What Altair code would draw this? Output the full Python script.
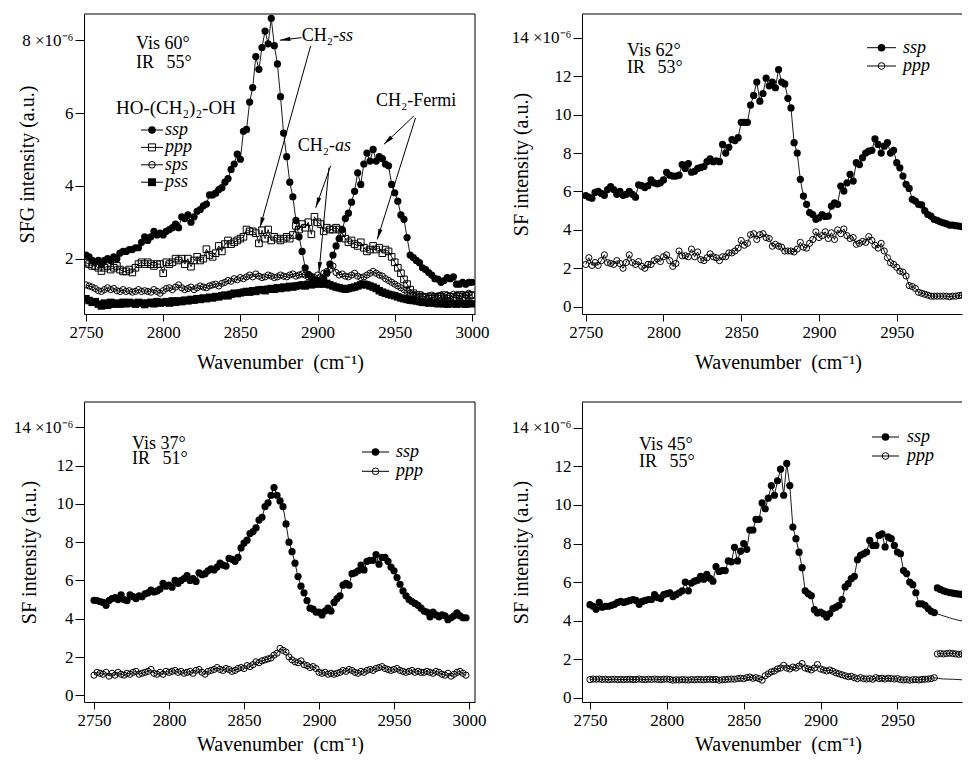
import math
import altair as alt
import pandas as pd

FONT = "'Liberation Serif', 'Times New Roman', Times, serif"
START = 2750
STEP = 2
SUP6 = "\u00d710\u207b\u2076"

# ---------------- Panel 1 (Vis 60 / IR 55) ----------------
p1_ssp = [2.10, 2.05, 1.95, 1.90, 1.95, 1.85, 1.95, 2.00, 1.95, 2.05,
          2.00, 2.15, 2.20, 2.20, 2.25, 2.25, 2.30, 2.30, 2.45, 2.60,
          2.50, 2.60, 2.75, 2.65, 2.70, 2.65, 2.75, 2.80, 2.85, 2.95,
          2.85, 3.15, 3.10, 3.20, 3.00, 3.15, 3.30, 3.35, 3.45, 3.50,
          3.75, 3.75, 3.80, 3.90, 3.95, 4.10, 4.20, 4.45, 4.60, 4.87,
          4.73, 5.50, 5.55, 6.30, 6.70, 7.55, 7.20, 7.80, 8.25, 7.90,
          8.60, 7.85, 7.35, 6.45, 5.45, 4.80, 4.10, 3.70, 3.05, 2.60,
          2.20, 1.75, 1.57, 1.48, 1.42, 1.40, 1.38, 1.45, 1.60, 1.85,
          2.10, 2.35, 2.55, 2.80, 3.10, 3.25, 3.55, 3.85, 4.36, 4.04,
          4.60, 4.90, 4.68, 5.00, 4.68, 4.80, 4.75, 4.60, 4.55, 4.04,
          3.81, 3.58, 3.20, 3.08, 2.58, 2.10, 2.03, 1.95, 1.89, 1.75,
          1.70, 1.62, 1.55, 1.45, 1.44, 1.35, 1.40, 1.48, 1.45, 1.50,
          1.30, 1.30, 1.35, 1.30, 1.35, 1.35]
p1_ppp = [1.89, 1.85, 1.80, 1.80, 1.75, 1.66, 1.75, 1.80, 1.70, 1.75,
          1.80, 1.70, 1.65, 1.65, 1.70, 1.62, 1.75, 1.85, 1.90, 1.85,
          1.90, 1.85, 1.80, 1.85, 1.85, 1.60, 1.90, 1.85, 1.90, 2.00,
          1.95, 2.00, 1.85, 2.00, 1.78, 1.95, 2.05, 1.95, 2.00, 2.26,
          2.10, 2.05, 2.15, 2.35, 2.20, 2.40, 2.50, 2.40, 2.45, 2.50,
          2.55, 2.60, 2.80, 2.75, 2.75, 2.70, 2.42, 2.78, 2.55, 2.80,
          2.50, 2.60, 2.55, 2.50, 2.55, 2.60, 2.55, 2.65, 2.90, 2.80,
          2.95, 2.85, 3.00, 2.67, 3.15, 3.00, 2.95, 2.75, 2.85, 2.80,
          2.80, 2.85, 2.80, 2.70, 2.55, 2.45, 2.50, 2.40, 2.35, 2.45,
          2.30, 2.20, 2.25, 2.35, 2.25, 2.30, 2.15, 2.25, 2.20, 2.05,
          1.90, 1.75, 1.60, 1.43, 1.30, 1.15, 1.05, 1.00, 1.00, 0.95,
          0.95, 0.90, 0.90, 0.95, 0.90, 0.95, 1.00, 0.90, 0.95, 0.95,
          0.90, 1.00, 0.95, 0.90, 1.00, 1.00]
p1_sps = [1.28, 1.25, 1.22, 1.18, 1.12, 1.10, 1.15, 1.20, 1.15, 1.18,
          1.12, 1.10, 1.15, 1.10, 1.12, 1.08, 1.10, 1.15, 1.10, 1.12,
          1.10, 1.08, 1.15, 1.10, 1.05, 1.12, 1.18, 1.20, 1.15, 1.22,
          1.28, 1.20, 1.15, 1.18, 1.22, 1.15, 1.20, 1.25, 1.22, 1.20,
          1.25, 1.28, 1.30, 1.25, 1.32, 1.35, 1.40, 1.38, 1.45, 1.42,
          1.48, 1.45, 1.50, 1.55, 1.50, 1.58, 1.52, 1.48, 1.50, 1.55,
          1.52, 1.48, 1.50, 1.55, 1.52, 1.50, 1.55, 1.58, 1.52, 1.55,
          1.58, 1.55, 1.50, 1.52, 1.48, 1.55, 1.50, 1.60, 1.65, 1.70,
          1.80, 1.62, 1.55, 1.58, 1.52, 1.50, 1.55, 1.60, 1.52, 1.48,
          1.50, 1.55, 1.60, 1.65, 1.60, 1.55, 1.52, 1.45, 1.40, 1.35,
          1.30, 1.25, 1.20, 1.15, 1.10, 1.05, 1.00, 0.98, 0.95, 0.98,
          0.95, 0.98, 1.00, 0.95, 0.98, 1.00, 0.95, 1.00, 0.98, 1.02,
          1.00, 0.98, 1.02, 1.00, 1.05, 1.00]
p1_pss = [0.90, 0.85, 0.80, 0.82, 0.75, 0.70, 0.78, 0.72, 0.80, 0.75,
          0.78, 0.75, 0.80, 0.76, 0.80, 0.78, 0.75, 0.80, 0.78, 0.74,
          0.78, 0.80, 0.76, 0.82, 0.78, 0.80, 0.82, 0.78, 0.84, 0.80,
          0.84, 0.82, 0.86, 0.84, 0.88, 0.86, 0.90, 0.88, 0.92, 0.90,
          0.94, 0.92, 0.96, 0.95, 0.98, 1.00, 0.98, 1.02, 1.05, 1.04,
          1.06, 1.08, 1.10, 1.08, 1.12, 1.10, 1.14, 1.15, 1.12, 1.16,
          1.18, 1.16, 1.20, 1.18, 1.22, 1.20, 1.24, 1.22, 1.25, 1.26,
          1.28, 1.25, 1.30, 1.28, 1.32, 1.30, 1.34, 1.30, 1.32, 1.28,
          1.25, 1.22, 1.20, 1.18, 1.16, 1.18, 1.20, 1.22, 1.25, 1.28,
          1.30, 1.28, 1.25, 1.22, 1.18, 1.12, 1.08, 1.05, 1.02, 1.00,
          0.98, 0.95, 0.92, 0.90, 0.88, 0.86, 0.85, 0.84, 0.82, 0.80,
          0.80, 0.78, 0.80, 0.78, 0.76, 0.78, 0.76, 0.75, 0.78, 0.76,
          0.75, 0.78, 0.76, 0.75, 0.78, 0.76]

# ---------------- Panel 2 (Vis 62 / IR 53) ----------------
p2_ssp = [5.79, 5.70, 5.65, 5.95, 6.00, 5.90, 5.80, 6.10, 6.25, 6.10,
          5.85, 6.00, 5.80, 5.85, 6.00, 5.85, 5.70, 6.35, 6.30, 6.20,
          6.30, 6.60, 6.45, 6.40, 6.45, 6.60, 7.00, 6.85, 6.80, 6.80,
          6.85, 7.40, 7.20, 7.45, 7.00, 7.05, 7.20, 7.25, 7.30, 7.55,
          7.70, 7.55, 7.60, 7.55, 8.45, 8.00, 8.30, 8.70, 8.65, 8.80,
          9.60, 9.60, 9.60, 10.50, 11.00, 11.70, 10.70, 11.10, 11.90, 11.50,
          11.70, 11.40, 12.35, 11.70, 11.60, 10.85, 10.35, 8.54, 8.00, 6.63,
          5.76, 5.33, 4.90, 4.80, 4.55, 4.63, 4.80, 4.70, 4.72, 5.24,
          5.41, 5.33, 6.28, 6.02, 6.45, 6.89, 6.54, 7.50, 7.40, 7.76,
          8.00, 8.10, 8.14, 8.74, 8.45, 8.00, 8.36, 8.54, 8.00, 8.14,
          7.50, 7.23, 6.80, 6.37, 6.16, 5.59, 5.50, 5.33, 5.30, 5.00,
          4.80, 4.72, 4.55, 4.50, 4.42, 4.37, 4.32, 4.25, 4.25, 4.22,
          4.20, 4.16, 4.18, 4.16, 4.16]
p2_ppp = [2.20, 2.55, 2.15, 2.30, 2.15, 2.40, 2.70, 2.30, 2.25, 2.20,
          2.40, 2.25, 2.00, 2.30, 2.70, 2.30, 2.20, 2.35, 2.10, 2.00,
          2.20, 2.20, 2.40, 2.50, 2.35, 2.60, 2.70, 2.40, 2.10, 2.25,
          2.90, 2.65, 2.65, 2.60, 3.00, 2.60, 2.85, 2.45, 2.40, 2.55,
          2.75, 2.60, 2.55, 2.40, 2.60, 2.60, 2.80, 2.80, 2.90, 3.05,
          3.45, 3.20, 3.30, 3.75, 3.80, 3.50, 3.75, 3.80, 3.60, 3.55,
          3.15, 3.25, 3.15, 3.10, 2.90, 2.90, 2.90, 2.85, 3.00, 3.35,
          3.10, 3.05, 3.30, 3.50, 3.90, 3.60, 3.70, 3.90, 3.55, 3.85,
          3.50, 4.00, 3.80, 4.05, 3.70, 3.55, 3.60, 3.25, 3.30, 3.40,
          3.35, 3.65, 3.45, 3.20, 3.05, 3.30, 2.90, 2.55, 2.29, 2.20,
          2.05, 1.85, 1.80, 1.60, 1.10, 1.05, 0.95, 0.75, 0.70, 0.65,
          0.60, 0.55, 0.55, 0.55, 0.55, 0.55, 0.55, 0.52, 0.55, 0.55,
          0.58, 0.60, 0.60, 0.58, 0.60]

# ---------------- Panel 3 (Vis 37 / IR 51) ----------------
p3_ssp = [4.96, 4.95, 4.90, 4.85, 4.70, 4.95, 5.05, 5.10, 5.00, 5.25,
          5.00, 4.95, 5.25, 5.15, 5.05, 5.20, 5.15, 5.30, 5.35, 5.50,
          5.40, 5.45, 5.55, 5.85, 5.70, 5.75, 5.65, 6.00, 5.85, 6.00,
          6.10, 6.25, 6.00, 6.10, 5.95, 6.40, 6.30, 6.35, 6.50, 6.60,
          6.55, 6.70, 6.90, 6.80, 6.75, 7.15, 7.10, 7.00, 7.20, 7.70,
          7.95, 8.10, 8.45, 8.55, 8.75, 9.15, 9.30, 9.85, 10.05, 10.45,
          10.85, 10.45, 10.15, 9.85, 8.95, 8.00, 7.50, 6.90, 6.20, 5.70,
          5.35, 4.95, 4.55, 4.50, 4.35, 4.35, 4.20, 4.40, 4.55, 4.40,
          4.85, 5.05, 5.20, 5.75, 5.85, 5.75, 6.35, 6.40, 6.50, 6.80,
          6.55, 7.00, 7.05, 7.05, 7.35, 6.85, 7.20, 7.20, 7.00, 6.70,
          6.50, 6.15, 5.80, 5.45, 5.20, 5.00, 4.90, 4.80, 4.70, 4.55,
          4.40, 4.35, 4.10, 4.35, 4.20, 4.10, 4.20, 4.15, 3.95, 4.05,
          4.15, 4.30, 4.15, 4.05, 4.05]
p3_ppp = [1.05, 1.20, 1.15, 1.10, 1.20, 1.00, 1.15, 1.05, 1.20, 1.10,
          1.05, 1.15, 1.10, 1.20, 1.25, 1.10, 1.15, 1.20, 1.25, 1.35,
          1.15, 1.10, 1.20, 1.10, 1.25, 1.20, 1.25, 1.30, 1.20, 1.25,
          1.15, 1.20, 1.25, 1.15, 1.30, 1.35, 1.20, 1.10, 1.25, 1.30,
          1.35, 1.45, 1.35, 1.30, 1.40, 1.35, 1.25, 1.30, 1.40, 1.45,
          1.40, 1.55, 1.50, 1.60, 1.75, 1.70, 1.80, 1.85, 1.90, 1.95,
          2.10, 2.20, 2.45, 2.35, 2.26, 2.00, 1.85, 1.75, 1.70, 1.80,
          1.60, 1.55, 1.45, 1.50, 1.40, 1.20, 1.15, 1.20, 1.10, 1.15,
          1.10, 1.15, 1.20, 1.30, 1.25, 1.35, 1.30, 1.20, 1.15, 1.25,
          1.20, 1.30, 1.35, 1.30, 1.40, 1.45, 1.50, 1.40, 1.35, 1.30,
          1.35, 1.40, 1.30, 1.25, 1.20, 1.25, 1.30, 1.20, 1.25, 1.20,
          1.20, 1.25, 1.20, 1.15, 1.25, 1.20, 1.10, 1.05, 1.15, 1.00,
          1.10, 1.20, 1.25, 1.15, 1.05]

# ---------------- Panel 4 (Vis 45 / IR 55) ----------------
p4_ssp = [4.83, 4.75, 4.60, 4.95, 4.70, 4.75, 4.75, 4.80, 4.85, 4.95,
          5.00, 4.95, 5.00, 5.05, 5.10, 5.05, 4.85, 5.00, 5.05, 5.10,
          5.10, 5.35, 5.20, 5.15, 5.35, 5.40, 5.45, 5.25, 5.35, 5.45,
          5.55, 6.00, 5.55, 5.95, 6.05, 6.10, 6.30, 6.15, 6.40, 6.20,
          6.05, 6.80, 6.55, 6.60, 6.60, 7.10, 7.05, 7.80, 7.10, 7.60,
          8.00, 7.70, 8.70, 8.70, 9.25, 9.25, 10.10, 9.80, 10.35, 11.00,
          10.50, 11.25, 11.85, 10.50, 12.15, 11.00, 8.85, 8.25, 7.55, 6.75,
          5.55, 5.40, 5.30, 4.57, 4.40, 4.45, 4.35, 4.19, 4.37, 4.63,
          4.70, 4.80, 5.10, 5.75, 5.92, 6.18, 6.30, 7.16, 7.39, 7.47,
          7.56, 8.16, 7.90, 7.90, 8.42, 8.50, 7.82, 8.34, 8.25, 7.90,
          7.56, 7.47, 6.60, 6.44, 6.00, 5.87, 5.45, 4.88, 4.88, 4.80,
          4.63, 4.49, 4.42]
p4_ppp = [0.95, 0.98, 0.97, 0.98, 0.96, 0.97, 0.95, 0.96, 0.97, 0.95,
          0.96, 0.95, 0.96, 0.97, 0.95, 0.96, 0.98, 0.96, 0.95, 0.97,
          0.96, 0.98, 0.96, 0.95, 0.97, 0.98, 0.96, 0.92, 0.94, 0.93,
          0.95, 0.94, 0.93, 0.95, 0.94, 0.96, 0.95, 0.94, 0.96, 0.97,
          0.95, 0.96, 0.92, 0.94, 0.95, 0.97, 0.98, 0.97, 1.00, 1.02,
          1.00, 1.05, 1.08, 1.02, 1.05, 1.00, 0.92, 1.15, 1.25, 1.35,
          1.40, 1.50, 1.55, 1.69, 1.55, 1.50, 1.60, 1.55, 1.65, 1.78,
          1.55, 1.50, 1.45, 1.55, 1.73, 1.50, 1.45, 1.40, 1.45, 1.38,
          1.30, 1.25, 1.20, 1.15, 1.10, 1.12, 1.05, 1.00, 1.05, 1.00,
          0.98, 1.00, 0.97, 1.05, 1.00, 1.02, 0.98, 1.02, 1.00, 0.98,
          1.00, 0.95, 0.93, 0.95, 0.92, 0.94, 0.95, 0.93, 0.96, 0.97,
          0.98, 1.00, 1.05]
# trailing pieces after 2974 cm-1
TAIL_START = 2974
HI_START = 2976
p4_ssp_tail = [4.42, 4.36, 4.30, 4.25, 4.20, 4.15, 4.10, 4.06, 4.02, 3.99, 3.97, 3.95, 3.93]
p4_ppp_tail = [1.05, 1.02, 1.00, 0.98, 0.98, 0.97, 0.97, 0.96, 0.95, 0.94, 0.93, 0.92, 0.95]
p4_ssp_hi = [5.70, 5.62, 5.55, 5.50, 5.46, 5.43, 5.40, 5.38, 5.36, 5.34, 5.33, 5.32]
p4_ppp_hi = [2.28, 2.30, 2.28, 2.30, 2.32, 2.30, 2.28, 2.26, 2.28, 2.30, 2.27, 2.25]

# annotation arrows of panel 1 (data units): x1, y1 -> x2, y2
arrow_x1 = [2889.6, 2895.5, 2908.5, 2907.4, 2962.4, 2963.5]
arrow_y1 = [8.07, 7.84, 4.55, 4.50, 5.92, 5.87]
arrow_x2 = [2875.6, 2862.7, 2898.8, 2900.9, 2943.0, 2938.7]
arrow_y2 = [8.00, 2.85, 3.40, 1.62, 5.14, 2.53]

X_TICKS_FULL = [2750, 2800, 2850, 2900, 2950, 3000]
X_TICKS_CUT = [2750, 2800, 2850, 2900, 2950]
ONE = pd.DataFrame({"k": [0]})

FILLED_CIRCLE = dict(shape="circle", filled=True, size=52)
OPEN_CIRCLE = dict(shape="circle", filled=False, size=38)
OPEN_SQUARE = dict(shape="square", filled=False, size=44)
FILLED_SQUARE = dict(shape="square", filled=True, size=56)


def series_df(values, start):
    return pd.DataFrame({"wn": [start + STEP * i for i in range(len(values))], "val": values})


def text_layer(txt, x, y, size=18, style="normal", align="left", baseline="middle"):
    return alt.Chart(ONE).mark_text(text=txt, font=FONT, fontSize=size, fontStyle=style,
                                    align=align, baseline=baseline, color="black").encode(
        x=alt.value(x), y=alt.value(y))


def panel(cfg):
    W, H = cfg["w"], cfg["h"]
    xdom, ydom = cfg["xdom"], cfg["ydom"]
    xs = alt.Scale(domain=xdom, nice=False, zero=False)
    ys = alt.Scale(domain=ydom, nice=False, zero=False)
    top = cfg["ytop"]
    xaxis = alt.Axis(values=cfg["xticks"], format="d", title="Wavenumber\u2002(cm\u207b\u00b9)",
                     titleX=196, titleY=cfg["xtitle_y"], titleBaseline="middle", titleAlign="center")
    yaxis = alt.Axis(values=cfg["yticks"], format="d", title=cfg["ytitle"],
                     titleX=cfg["ytitle_x"], titleY=H / 2, titleAngle=270,
                     titleBaseline="middle", titleAlign="center",
                     labelExpr=f"datum.value == {top} ? '{top} {SUP6}' : datum.label")
    X = alt.X("wn:Q", scale=xs, axis=xaxis)
    Y = alt.Y("val:Q", scale=ys, axis=yaxis)
    layers = []
    for s in cfg["series"]:
        df = series_df(s["values"], s.get("start", START))
        layers.append(alt.Chart(df).mark_line(color="black", strokeWidth=0.9, clip=True).encode(x=X, y=Y))
        if "marker" in s:
            m = s["marker"]
            layers.append(alt.Chart(df).mark_point(shape=m["shape"], filled=m["filled"], size=m["size"],
                                                   color="black", opacity=1, strokeWidth=1, clip=True)
                          .encode(x=X, y=Y))
    if cfg.get("arrows"):
        sx = W / (xdom[1] - xdom[0])
        sy = H / (ydom[1] - ydom[0])
        ang = [(math.degrees(math.atan2((b - a) * sx, (d - c) * sy))) % 360
               for a, b, c, d in zip(arrow_x1, arrow_x2, arrow_y1, arrow_y2)]
        adf = pd.DataFrame({"x1": arrow_x1, "y1": arrow_y1, "x2": arrow_x2, "y2": arrow_y2, "ang": ang})
        layers.append(alt.Chart(adf).mark_rule(color="black", strokeWidth=1).encode(
            x=alt.X("x1:Q", scale=xs, axis=xaxis), y=alt.Y("y1:Q", scale=ys, axis=yaxis),
            x2="x2:Q", y2="y2:Q"))
        layers.append(alt.Chart(adf).mark_point(shape="M0,0L0.45,2.2L-0.45,2.2Z", filled=True, size=90,
                                                color="black", opacity=1).encode(
            x=alt.X("x2:Q", scale=xs, axis=xaxis), y=alt.Y("y2:Q", scale=ys, axis=yaxis),
            angle=alt.Angle("ang:Q", scale=None)))
    # frame: top line (and right line when the frame is inside the picture)
    layers.append(alt.Chart(ONE).mark_rule(color="black", strokeWidth=1).encode(
        x=alt.value(0), x2=alt.value(W), y=alt.value(0)))
    if cfg["frame_right"]:
        layers.append(alt.Chart(ONE).mark_rule(color="black", strokeWidth=1).encode(
            x=alt.value(W), y=alt.value(0), y2=alt.value(H)))
    # legend
    lg = cfg["legend"]
    for i, (lab, m) in enumerate(lg["entries"]):
        yy = lg["y0"] + i * lg["dy"]
        layers.append(alt.Chart(ONE).mark_rule(color="black", strokeWidth=1).encode(
            x=alt.value(lg["x1"]), x2=alt.value(lg["x2"]), y=alt.value(yy)))
        layers.append(alt.Chart(ONE).mark_point(shape=m["shape"], filled=m["filled"], size=m["size"] + 6,
                                                color="black", opacity=1, strokeWidth=1).encode(
            x=alt.value((lg["x1"] + lg["x2"]) / 2), y=alt.value(yy)))
        layers.append(text_layer(lab, lg["tx"], yy, size=18, style="italic"))
    for t in cfg["texts"]:
        layers.append(text_layer(*t))
    return alt.layer(*layers).properties(width=W, height=H)


IR1 = "IR\u2002\u2009"
RW = 380  # width of the right-hand panels (their frames run past the picture edge)

cfg1 = dict(w=391, h=300, xdom=[2748.7, 3002.0], ydom=[0.48, 8.72], ytop=8, xtitle_y=48,
            xticks=X_TICKS_FULL, yticks=[2, 4, 6, 8], ytitle="SFG intensity (a.u.)", ytitle_x=-57,
            frame_right=True, arrows=True,
            series=[dict(values=p1_pss, marker=FILLED_SQUARE), dict(values=p1_sps, marker=OPEN_CIRCLE),
                    dict(values=p1_ppp, marker=OPEN_SQUARE), dict(values=p1_ssp, marker=FILLED_CIRCLE)],
            legend=dict(entries=[("ssp", FILLED_CIRCLE), ("ppp", OPEN_SQUARE), ("sps", OPEN_CIRCLE),
                                 ("pss", FILLED_SQUARE)], y0=116, dy=17.4, x1=57, x2=79, tx=81),
            texts=[("Vis 60\u00b0", 52, 30), (IR1 + "55\u00b0", 52, 48.7),
                   ("HO-(CH\u2082)\u2082-OH", 32, 100, 19, "normal", "left", "alphabetic"),
                   ("CH\u2082-", 255, 22, 18, "normal", "right"), ("ss", 255, 22, 18, "italic", "left"),
                   ("CH\u2082-", 251, 132, 18, "normal", "right"), ("as", 251, 132, 18, "italic", "left"),
                   ("CH\u2082-Fermi", 292, 87, 18)])

cfg2 = dict(w=RW, h=300, xdom=[2747.6, 2747.6 + RW / 1.555], ydom=[-0.38, 15.24], ytop=14, xtitle_y=48,
            xticks=X_TICKS_CUT, yticks=[0, 2, 4, 6, 8, 10, 12, 14], ytitle="SF intensity (a.u.)", ytitle_x=-61,
            frame_right=False,
            series=[dict(values=p2_ppp, marker=OPEN_CIRCLE), dict(values=p2_ssp, marker=FILLED_CIRCLE)],
            legend=dict(entries=[("ssp", FILLED_CIRCLE), ("ppp", OPEN_CIRCLE)], y0=33.7, dy=18.3,
                        x1=285, x2=314, tx=321),
            texts=[("Vis 62\u00b0", 45, 37), (IR1 + "53\u00b0", 45, 53.7)])

cfg3 = dict(w=391, h=300, xdom=[2743.3, 3004.0], ydom=[-0.35, 15.32], ytop=14, xtitle_y=42,
            xticks=X_TICKS_FULL, yticks=[0, 2, 4, 6, 8, 10, 12, 14], ytitle="SF intensity (a.u.)", ytitle_x=-55,
            frame_right=True,
            series=[dict(values=p3_ppp, marker=OPEN_CIRCLE), dict(values=p3_ssp, marker=FILLED_CIRCLE)],
            legend=dict(entries=[("ssp", FILLED_CIRCLE), ("ppp", OPEN_CIRCLE)], y0=50, dy=19.3,
                        x1=278, x2=305, tx=312),
            texts=[("Vis 37\u00b0", 48, 41.7), (IR1 + "51\u00b0", 48, 57.3)])

cfg4 = dict(w=RW, h=300, xdom=[2744.8, 2744.8 + RW / 1.537], ydom=[-0.21, 15.33], ytop=14, xtitle_y=42,
            xticks=X_TICKS_CUT, yticks=[0, 2, 4, 6, 8, 10, 12, 14], ytitle="SF intensity (a.u.)", ytitle_x=-61,
            frame_right=False,
            series=[dict(values=p4_ppp, marker=OPEN_CIRCLE),
                    dict(values=p4_ppp_tail, start=TAIL_START),
                    dict(values=p4_ppp_hi, start=HI_START, marker=OPEN_CIRCLE),
                    dict(values=p4_ssp, marker=FILLED_CIRCLE),
                    dict(values=p4_ssp_tail, start=TAIL_START),
                    dict(values=p4_ssp_hi, start=HI_START, marker=FILLED_CIRCLE)],
            legend=dict(entries=[("ssp", FILLED_CIRCLE), ("ppp", OPEN_CIRCLE)], y0=35, dy=19,
                        x1=290, x2=317, tx=325),
            texts=[("Vis 45\u00b0", 57, 43.3), (IR1 + "55\u00b0", 57, 60)])

chart = (alt.concat(panel(cfg1), panel(cfg2), panel(cfg3), panel(cfg4), columns=2,
                    spacing={"row": 88, "column": 107}, bounds="flush")
         .properties(padding={"left": 5, "top": 5, "right": 0, "bottom": 0})
         .configure_view(stroke=None)
         .configure_axis(labelFont=FONT, labelFontSize=17, labelColor="black", titleFont=FONT,
                         titleFontSize=20, titleFontWeight="normal", titleColor="black",
                         domainColor="black", domainWidth=1, tickColor="black", tickWidth=1,
                         grid=False, labelPadding=2, labelFlush=False, labelOverlap=False)
         .configure_axisY(tickSize=9)
         .configure_axisX(tickSize=7, labelPadding=3))

chart.save("out.html", embed_options={"renderer": "svg", "actions": False})
